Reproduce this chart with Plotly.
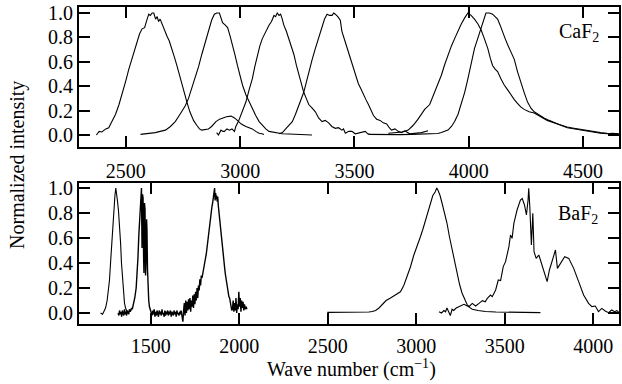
import plotly.graph_objects as go

# ---------------- CaF2 (top panel) ----------------
caf_a_x = [2371, 2383, 2395, 2412, 2425, 2440, 2455, 2470, 2485, 2499, 2513, 2527, 2538, 2549, 2560, 2571, 2582, 2593, 2600, 2607, 2615, 2622, 2630, 2637, 2643, 2650, 2658, 2668, 2680, 2690, 2701, 2712, 2723, 2734, 2745, 2756, 2767, 2780, 2796, 2810, 2822, 2832, 2845, 2861, 2875, 2894, 2910, 2923, 2940, 2960, 2975, 2988, 3005, 3025, 3040, 3053, 3068, 3083, 3095, 3104]
caf_a_y = [0.0, 0.03, 0.025, 0.05, 0.06, 0.11, 0.17, 0.25, 0.34, 0.44, 0.54, 0.63, 0.71, 0.78, 0.83, 0.87, 0.88, 0.95, 0.99, 0.98, 1.0, 1.0, 0.95, 0.97, 0.93, 0.95, 0.91, 0.86, 0.81, 0.77, 0.71, 0.64, 0.57, 0.49, 0.41, 0.34, 0.27, 0.19, 0.12, 0.08, 0.05, 0.04, 0.045, 0.05, 0.07, 0.11, 0.13, 0.14, 0.15, 0.155, 0.14, 0.12, 0.09, 0.07, 0.06, 0.05, 0.03, 0.015, 0.01, 0.005]

caf_b_x = [2564, 2600, 2629, 2650, 2673, 2695, 2716, 2730, 2745, 2760, 2774, 2788, 2803, 2818, 2832, 2843, 2853, 2865, 2875, 2887, 2898, 2909, 2916, 2923, 2935, 2945, 2956, 2967, 2978, 2988, 2999, 3010, 3025, 3039, 3053, 3068, 3083, 3097, 3112, 3126, 3155, 3184, 3213, 3242, 3280, 3314]
caf_b_y = [0.005, 0.01, 0.02, 0.03, 0.04, 0.07, 0.11, 0.15, 0.19, 0.24, 0.30, 0.38, 0.46, 0.56, 0.66, 0.73, 0.79, 0.87, 0.94, 0.99, 1.0, 1.0, 0.96, 0.92, 0.90, 0.88, 0.81, 0.74, 0.65, 0.57, 0.49, 0.41, 0.33, 0.27, 0.21, 0.16, 0.11, 0.08, 0.05, 0.03, 0.02, 0.01, 0.008, 0.005, 0.003, 0.0]

caf_c_x = [2897, 2905, 2916, 2924, 2931, 2942, 2953, 2964, 2975, 2981, 2992, 3003, 3014, 3025, 3039, 3053, 3064, 3075, 3086, 3097, 3112, 3126, 3137, 3148, 3155, 3162, 3170, 3177, 3184, 3191, 3202, 3213, 3224, 3235, 3246, 3257, 3268, 3278, 3289, 3300, 3315, 3329, 3343, 3358, 3372, 3387, 3401, 3416, 3430, 3445, 3452, 3460, 3475, 3489, 3503, 3518, 3532, 3547, 3558, 3568]
caf_c_y = [0.02, 0.0, 0.04, 0.03, 0.03, 0.05, 0.04, 0.05, 0.03, 0.07, 0.11, 0.16, 0.21, 0.27, 0.37, 0.46, 0.56, 0.66, 0.73, 0.79, 0.85, 0.90, 0.93, 0.98, 0.97, 1.0, 0.98, 0.99, 0.95, 0.90, 0.85, 0.79, 0.73, 0.66, 0.57, 0.49, 0.42, 0.35, 0.30, 0.25, 0.22, 0.19, 0.14, 0.11, 0.12, 0.10, 0.07, 0.055, 0.06, 0.04, 0.05, 0.015, 0.03, 0.03, 0.01, 0.015, 0.025, 0.03, 0.01, 0.005]

caf_d_x = [3170, 3185, 3199, 3213, 3228, 3242, 3257, 3268, 3278, 3289, 3300, 3315, 3329, 3343, 3358, 3369, 3380, 3391, 3402, 3409, 3416, 3427, 3438, 3445, 3460, 3474, 3485, 3496, 3507, 3517, 3528, 3539, 3550, 3561, 3572, 3583, 3597, 3612, 3626, 3641, 3652, 3662, 3677, 3691, 3705, 3720, 3742, 3764, 3793, 3822]
caf_d_y = [0.01, 0.02, 0.05, 0.08, 0.11, 0.17, 0.25, 0.30, 0.35, 0.43, 0.52, 0.62, 0.71, 0.80, 0.90, 0.95, 0.99, 0.98, 0.98, 1.0, 0.99, 0.97, 0.94, 0.85, 0.76, 0.68, 0.61, 0.55, 0.48, 0.42, 0.38, 0.33, 0.29, 0.25, 0.20, 0.16, 0.13, 0.12, 0.10, 0.09, 0.06, 0.04, 0.05, 0.03, 0.02, 0.035, 0.01, 0.015, 0.02, 0.035]

caf_e_x = [3648, 3680, 3710, 3735, 3757, 3778, 3793, 3807, 3829, 3851, 3865, 3880, 3895, 3909, 3924, 3938, 3953, 3967, 3982, 3996, 4010, 4025, 4040, 4054, 4068, 4083, 4094, 4104, 4115, 4126, 4141, 4155, 4170, 4184, 4199, 4213, 4227, 4242, 4264, 4286, 4315, 4343, 4372, 4401, 4430, 4460, 4489, 4518, 4547, 4576, 4605, 4634, 4660]
caf_e_y = [0.015, 0.02, 0.025, 0.04, 0.08, 0.13, 0.17, 0.21, 0.25, 0.35, 0.42, 0.49, 0.58, 0.66, 0.73, 0.79, 0.86, 0.91, 0.96, 1.0, 0.98, 0.95, 0.91, 0.86, 0.79, 0.71, 0.63, 0.57, 0.54, 0.52, 0.46, 0.41, 0.37, 0.33, 0.29, 0.26, 0.23, 0.21, 0.19, 0.18, 0.15, 0.12, 0.10, 0.08, 0.065, 0.055, 0.045, 0.035, 0.03, 0.02, 0.015, 0.01, 0.01]

caf_f_x = [3561, 3600, 3650, 3700, 3750, 3800, 3840, 3865, 3880, 3895, 3909, 3924, 3938, 3953, 3967, 3982, 3996, 4010, 4025, 4039, 4050, 4061, 4075, 4090, 4104, 4115, 4126, 4137, 4148, 4159, 4170, 4184, 4199, 4213, 4227, 4242, 4257, 4272, 4286, 4307, 4329, 4351, 4373, 4402, 4431, 4460, 4488, 4518, 4547, 4576, 4605, 4630, 4652]
caf_f_y = [0.005, 0.003, 0.005, 0.003, 0.005, 0.008, 0.01, 0.012, 0.02, 0.03, 0.04, 0.07, 0.11, 0.17, 0.25, 0.35, 0.46, 0.58, 0.71, 0.79, 0.86, 0.93, 1.0, 1.0, 0.99, 0.97, 0.95, 0.90, 0.84, 0.79, 0.74, 0.68, 0.62, 0.52, 0.43, 0.35, 0.27, 0.22, 0.19, 0.165, 0.14, 0.12, 0.10, 0.08, 0.06, 0.05, 0.04, 0.03, 0.02, 0.015, 0.01, 0.015, 0.01]

# ---------------- BaF2 (bottom panel) ----------------
baf_g_x = [1217, 1228, 1235, 1245, 1254, 1261, 1267, 1275, 1282, 1288, 1293, 1298, 1303, 1308, 1312, 1318, 1324, 1330, 1335, 1341, 1346, 1352, 1358, 1366]
baf_g_y = [0.0, -0.01, 0.01, 0.04, 0.10, 0.17, 0.26, 0.44, 0.61, 0.74, 0.85, 0.94, 1.0, 0.96, 0.90, 0.82, 0.72, 0.56, 0.40, 0.27, 0.16, 0.08, 0.04, 0.01]

baf_h_x = [1316, 1320, 1324, 1328, 1332, 1336, 1340, 1344, 1348, 1352, 1356, 1360, 1364, 1368, 1372, 1376, 1380, 1384, 1388, 1392, 1396,
           1404, 1410, 1418, 1423, 1428, 1433, 1438, 1443, 1448, 1451, 1454, 1457, 1460, 1462, 1465, 1468, 1471, 1474, 1477, 1479, 1482, 1485, 1489, 1493, 1498, 1504,
           1508, 1512, 1516, 1520, 1524, 1528, 1532, 1536, 1540, 1544, 1548, 1552, 1556, 1560, 1564, 1568, 1572, 1576, 1580, 1584, 1588, 1592, 1596, 1600,
           1604, 1608, 1612, 1616, 1620, 1624, 1628, 1632, 1636, 1640, 1644, 1648, 1652, 1656, 1660, 1664, 1668, 1672, 1676, 1679, 1682,
           1686, 1690, 1694, 1698, 1702, 1706, 1710, 1714, 1718, 1722, 1726, 1730, 1734, 1738, 1742, 1746, 1750, 1754, 1758, 1762, 1766, 1770, 1774, 1778, 1782, 1786, 1790, 1795,
           1800, 1805, 1810, 1814, 1818, 1822, 1826, 1830, 1834, 1838, 1842, 1846, 1850, 1854, 1858, 1861, 1864, 1867, 1870, 1873, 1876, 1879, 1882, 1886, 1890, 1894, 1898,
           1902, 1906, 1910, 1914, 1918, 1922, 1926, 1930, 1934, 1938, 1942, 1946, 1950, 1954, 1958, 1962, 1966, 1970, 1974, 1978, 1982, 1986, 1990, 1994, 1998,
           2002, 2006, 2010, 2014, 2018, 2022, 2026, 2030, 2035, 2040, 2043]
baf_h_y = [0.0, -0.02, 0.02, -0.01, 0.01, -0.03, 0.02, 0.0, -0.02, 0.03, -0.01, 0.01, -0.02, 0.02, 0.0, -0.01, 0.03, 0.01, 0.02, 0.04, 0.03,
           0.07, 0.12, 0.20, 0.30, 0.44, 0.62, 0.79, 0.90, 1.0, 0.52, 0.95, 0.92, 0.45, 0.32, 0.88, 0.83, 0.30, 0.43, 0.75, 0.67, 0.35, 0.19, 0.10, 0.05, 0.02, 0.01,
           -0.02, 0.02, -0.01, 0.03, -0.03, 0.01, -0.02, 0.02, 0.0, -0.03, 0.02, -0.01, 0.01, -0.02, 0.03, -0.01, 0.0, -0.03, 0.02, -0.02, 0.01, -0.01, 0.02, -0.02,
           0.01, -0.01, 0.02, -0.03, 0.01, 0.0, -0.02, 0.02, -0.01, 0.01, -0.03, 0.02, -0.01, 0.0, -0.02, 0.01, -0.01, 0.02, -0.02, -0.05, -0.07,
           0.02, 0.08, -0.02, 0.10, 0.0, 0.09, 0.02, 0.11, 0.03, 0.12, 0.01, 0.10, 0.05, 0.14, 0.04, 0.15, 0.07, 0.17, 0.10, 0.20, 0.12, 0.22, 0.18, 0.27, 0.22, 0.30, 0.28, 0.33,
           0.38, 0.41, 0.44, 0.47, 0.52, 0.58, 0.62, 0.66, 0.70, 0.76, 0.80, 0.85, 0.88, 0.92, 0.98, 1.0, 0.90, 0.96, 0.91, 0.94, 0.89, 0.93, 0.86, 0.80, 0.74, 0.68, 0.60,
           0.55, 0.49, 0.44, 0.38, 0.36, 0.31, 0.27, 0.25, 0.20, 0.16, 0.13, 0.12, 0.07, 0.05, 0.02, 0.03, 0.10, 0.01, 0.08, 0.02, 0.12, 0.0, 0.07, 0.03, 0.17,
           0.05, 0.12, 0.01, 0.10, 0.04, 0.09, 0.02, 0.07, 0.03, 0.05, 0.03]

baf_i_x = [2498, 2550, 2600, 2650, 2700, 2733, 2752, 2771, 2790, 2808, 2830, 2855, 2880, 2911, 2930, 2949, 2968, 2986, 3005, 3024, 3038, 3052, 3066, 3080, 3094, 3108, 3116, 3124, 3135, 3146, 3160, 3174, 3188, 3202, 3216, 3231, 3245, 3259, 3273, 3287, 3302, 3317, 3350, 3392, 3450, 3524, 3600, 3702]
baf_i_y = [0.005, 0.005, 0.005, 0.005, 0.006, 0.008, 0.012, 0.02, 0.04, 0.07, 0.10, 0.12, 0.14, 0.17, 0.22, 0.29, 0.37, 0.46, 0.53, 0.61, 0.67, 0.74, 0.81, 0.89, 0.94, 0.97, 1.0, 0.98, 0.94, 0.88, 0.80, 0.72, 0.61, 0.51, 0.41, 0.32, 0.23, 0.16, 0.11, 0.07, 0.045, 0.03, 0.02, 0.012, 0.008, 0.005, 0.004, 0.003]

baf_j_x = [3129, 3143, 3157, 3166, 3174, 3184, 3193, 3203, 3212, 3226, 3240, 3255, 3270, 3284, 3298, 3317, 3336, 3355, 3374, 3390, 3402, 3420, 3430, 3449, 3464, 3477, 3492, 3505, 3524, 3533, 3542, 3552, 3570, 3589, 3599, 3612, 3623, 3632, 3636, 3642, 3651, 3659, 3666, 3678, 3693, 3702, 3721, 3740, 3753, 3768, 3787, 3798, 3811, 3824, 3839, 3862, 3890, 3918, 3946, 3974, 3993, 4012, 4030, 4049, 4068, 4087, 4105, 4120, 4134, 4153]
baf_j_y = [0.01, 0.0, 0.02, 0.01, 0.04, 0.01, -0.02, 0.03, 0.02, 0.04, 0.05, 0.06, 0.07, 0.06, 0.05, 0.077, 0.056, 0.077, 0.099, 0.09, 0.117, 0.144, 0.131, 0.184, 0.264, 0.26, 0.371, 0.411, 0.531, 0.624, 0.597, 0.717, 0.824, 0.904, 0.917, 0.864, 0.784, 0.90, 0.997, 0.851, 0.544, 0.797, 0.491, 0.437, 0.464, 0.424, 0.331, 0.251, 0.344, 0.411, 0.504, 0.357, 0.384, 0.411, 0.451, 0.437, 0.357, 0.251, 0.144, 0.077, 0.051, 0.056, 0.011, 0.037, 0.016, 0.003, 0.024, 0.01, 0.019, -0.003]

top_series = [(caf_a_x, caf_a_y), (caf_b_x, caf_b_y), (caf_c_x, caf_c_y), (caf_d_x, caf_d_y), (caf_e_x, caf_e_y), (caf_f_x, caf_f_y)]
bottom_series = [(baf_g_x, baf_g_y), (baf_h_x, baf_h_y), (baf_i_x, baf_i_y), (baf_j_x, baf_j_y)]

y_ticks = [0.0, 0.2, 0.4, 0.6, 0.8, 1.0]
top_x_ticks = [2500, 3000, 3500, 4000, 4500]
bottom_x_ticks = [1500, 2000, 2500, 3000, 3500, 4000]

FONT = "Liberation Serif"
FS = 20

fig = go.Figure()
for xs, ys in top_series:
    fig.add_trace(go.Scatter(x=xs, y=ys, mode="lines", xaxis="x", yaxis="y",
                             line=dict(color="black", width=1.1), showlegend=False))
for i, (xs, ys) in enumerate(bottom_series):
    fig.add_trace(go.Scatter(x=xs, y=ys, mode="lines", xaxis="x2", yaxis="y2",
                             line=dict(color="black", width=1.4 if i == 1 else 1.1),
                             showlegend=False))

axis_common = dict(showline=True, linecolor="black", linewidth=2, mirror="ticks",
                   ticks="inside", ticklen=11, tickwidth=2, tickcolor="black",
                   showgrid=False, zeroline=False,
                   tickfont=dict(family=FONT, size=FS, color="black"))

fig.update_layout(
    width=622, height=384,
    margin=dict(l=79, r=1, t=7, b=60),
    paper_bgcolor="white", plot_bgcolor="white",
    font=dict(family=FONT, size=FS, color="black"),
    xaxis=dict(anchor="y", range=[2295, 4657], tickvals=top_x_ticks,
               ticklabelstandoff=5, **axis_common),
    yaxis=dict(anchor="x", domain=[0.5584, 1.0], range=[-0.098, 1.049],
               tickvals=y_ticks, tickformat=".1f", **axis_common),
    xaxis2=dict(anchor="y2", range=[1095, 4146], tickvals=bottom_x_ticks,
                ticklabelstandoff=3, **axis_common),
    yaxis2=dict(anchor="x2", domain=[0.0, 0.4448], range=[-0.088, 1.04],
                tickvals=y_ticks, tickformat=".1f", **axis_common),
    annotations=[
        dict(text="CaF<sub>2</sub>", xref="paper", yref="paper", x=0.926, y=0.918,
             xanchor="center", yanchor="middle", showarrow=False,
             font=dict(family=FONT, size=FS, color="black")),
        dict(text="BaF<sub>2</sub>", xref="paper", yref="paper", x=0.924, y=0.344,
             xanchor="center", yanchor="middle", showarrow=False,
             font=dict(family=FONT, size=FS, color="black")),
        dict(text="Normalized intensity", xref="paper", yref="paper", x=-0.113, y=0.5016,
             xanchor="center", yanchor="middle", textangle=-90, showarrow=False,
             font=dict(family=FONT, size=FS, color="black")),
        dict(text="Wave number (cm<sup>−1</sup>)", xref="paper", yref="paper", x=0.505, y=-0.139,
             xanchor="center", yanchor="middle", showarrow=False,
             font=dict(family=FONT, size=FS, color="black")),
    ],
)

fig.write_html("out.html")
